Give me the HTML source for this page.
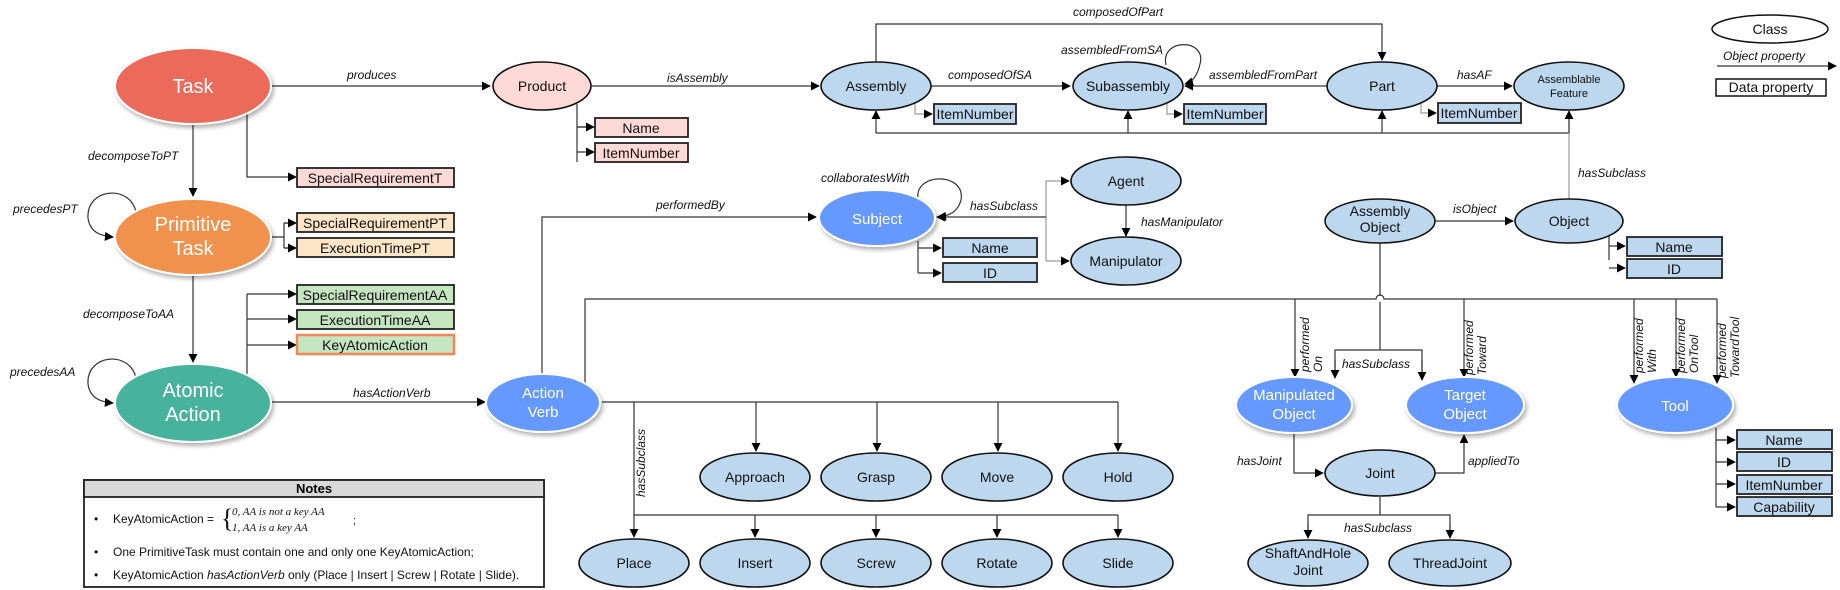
<!DOCTYPE html>
<html><head><meta charset="utf-8"><style>
html,body{margin:0;padding:0;background:#fff;}
svg{display:block;font-family:"Liberation Sans",Arial,sans-serif;}
.l{fill:none;stroke:#333;stroke-width:1.2;}
.g{fill:none;stroke:#999;stroke-width:1.2;}
.lb{font-style:italic;font-size:12px;fill:#111;}
.cn{fill:#BDD7EE;stroke:#111;stroke-width:1.6;}
.bn{fill:#6699FF;stroke:#fff;stroke-width:2;filter:url(#sh);}
.ct{font-size:14px;fill:#111;text-anchor:middle;}
.wt{font-size:15px;fill:#fff;text-anchor:middle;}
.bt{font-size:20px;fill:#fff;text-anchor:middle;}
.ab{stroke:#222;stroke-width:1.8;}
.at{font-size:14px;fill:#111;text-anchor:middle;}
</style></head><body>
<svg width="1840" height="590" viewBox="0 0 1840 590" xmlns="http://www.w3.org/2000/svg">
<defs>
<marker id="a" viewBox="0 0 10 10" refX="9" refY="5" markerWidth="9" markerHeight="9" markerUnits="userSpaceOnUse" orient="auto"><path d="M0,0 L10,5 L0,10 z" fill="#000"/></marker>
<filter id="sh" x="-20%" y="-20%" width="150%" height="160%"><feDropShadow dx="2" dy="3" stdDeviation="2" flood-color="#000" flood-opacity="0.3"/></filter>
</defs>

<!-- Left column edges -->
<path class="l" d="M271,86 H490" marker-end="url(#a)"/>
<text class="lb" x="347" y="79">produces</text>
<path class="l" d="M193,124 V196" marker-end="url(#a)"/>
<text class="lb" x="88" y="160">decomposeToPT</text>
<path class="l" d="M193,275 V362" marker-end="url(#a)"/>
<text class="lb" x="83" y="318">decomposeToAA</text>
<path class="l" d="M136,212 C130,184 86,188 88,218 C90,232 100,236 113,237" marker-end="url(#a)"/>
<text class="lb" x="13" y="213">precedesPT</text>
<path class="l" d="M136,378 C130,350 86,354 88,384 C90,398 100,402 113,403" marker-end="url(#a)"/>
<text class="lb" x="10" y="376">precedesAA</text>
<path class="l" d="M247,113 V177 H296" marker-end="url(#a)"/>
<path class="l" d="M271,237 H284 M284,223 V248 M284,223 H296 M284,248 H296"/>
<path class="l" d="M284,223 H296" marker-end="url(#a)"/><path class="l" d="M284,248 H296" marker-end="url(#a)"/>
<path class="l" d="M247,374 V294"/>
<path class="l" d="M247,294 H296" marker-end="url(#a)"/><path class="l" d="M247,319 H296" marker-end="url(#a)"/><path class="l" d="M247,345 H296" marker-end="url(#a)"/>
<path class="l" d="M270,402 H485" marker-end="url(#a)"/>
<text class="lb" x="353" y="397">hasActionVerb</text>
<path class="l" d="M577,104 V162 M577,127 H594" /><path class="l" d="M577,127 H594" marker-end="url(#a)"/><path class="l" d="M577,152 H594" marker-end="url(#a)"/>

<!-- Left nodes -->
<ellipse cx="193" cy="86" rx="78" ry="38" fill="#EC6B5A" stroke="#fff" stroke-width="2" filter="url(#sh)"/>
<text class="bt" x="193" y="93">Task</text>
<ellipse cx="193" cy="237" rx="78" ry="38" fill="#F0924E" stroke="#fff" stroke-width="2" filter="url(#sh)"/>
<text class="bt" x="193" y="231">Primitive</text><text class="bt" x="193" y="255">Task</text>
<ellipse cx="193" cy="403" rx="78" ry="39" fill="#47B39C" stroke="#fff" stroke-width="2" filter="url(#sh)"/>
<text class="bt" x="193" y="397">Atomic</text><text class="bt" x="193" y="421">Action</text>

<rect x="297" y="168" width="157" height="19" fill="#FDD9D8" class="ab"/><text class="at" x="375" y="183">SpecialRequirementT</text>
<rect x="297" y="213" width="157" height="19" fill="#FDE5C8" class="ab"/><text class="at" x="375" y="228">SpecialRequirementPT</text>
<rect x="297" y="238" width="157" height="19" fill="#FDE5C8" class="ab"/><text class="at" x="375" y="253">ExecutionTimePT</text>
<rect x="297" y="285" width="157" height="19" fill="#C5E4C0" class="ab"/><text class="at" x="375" y="300">SpecialRequirementAA</text>
<rect x="297" y="310" width="157" height="19" fill="#C5E4C0" class="ab"/><text class="at" x="375" y="325">ExecutionTimeAA</text>
<rect x="297" y="335" width="157" height="19" fill="#C5E4C0" stroke="#F4865A" stroke-width="2.5"/><text class="at" x="375" y="350">KeyAtomicAction</text>

<ellipse cx="542" cy="86" rx="49" ry="24" fill="#FDD9D8" stroke="#111" stroke-width="1.6"/>
<text class="ct" x="542" y="91">Product</text>
<rect x="595" y="118" width="93" height="19" fill="#FDD9D8" class="ab"/><text class="at" x="641" y="133">Name</text>
<rect x="595" y="143" width="93" height="19" fill="#FDD9D8" class="ab"/><text class="at" x="641" y="158">ItemNumber</text>

<!-- Top row edges -->
<path class="l" d="M591,86 H819" marker-end="url(#a)"/>
<text class="lb" x="667" y="82">isAssembly</text>
<path class="l" d="M931,86 H1070" marker-end="url(#a)"/>
<text class="lb" x="948" y="79">composedOfSA</text>
<path class="l" d="M876,62 V24 H1382 V60" marker-end="url(#a)"/>
<text class="lb" x="1073" y="16">composedOfPart</text>
<path class="l" d="M1327,86 H1185" marker-end="url(#a)"/>
<text class="lb" x="1209" y="79">assembledFromPart</text>
<path class="l" d="M1166,65 C1160,38 1207,38 1200,64 C1197,77 1192,82 1185,84" marker-end="url(#a)"/>
<text class="lb" x="1061" y="54">assembledFromSA</text>
<path class="l" d="M1437,86 H1512" marker-end="url(#a)"/>
<text class="lb" x="1457" y="79">hasAF</text>
<path class="l" d="M876,133 H1569"/>
<path class="l" d="M876,133 V111" marker-end="url(#a)"/>
<path class="l" d="M1128,133 V111" marker-end="url(#a)"/>
<path class="l" d="M1382,133 V111" marker-end="url(#a)"/>
<path class="g" d="M1569,199 V112"/>
<path class="l" d="M1569,133 V111" marker-end="url(#a)"/>
<text class="lb" x="1578" y="177">hasSubclass</text>
<path class="g" d="M915,104 V114 H932" marker-end="url(#a)"/>
<path class="g" d="M1167,104 V114 H1182" marker-end="url(#a)"/>
<path class="g" d="M1421,104 V113 H1436" marker-end="url(#a)"/>

<ellipse class="cn" cx="876" cy="86" rx="55" ry="24"/><text class="ct" x="876" y="91">Assembly</text>
<ellipse class="cn" cx="1128" cy="86" rx="55" ry="24"/><text class="ct" x="1128" y="91">Subassembly</text>
<ellipse class="cn" cx="1382" cy="86" rx="55" ry="24"/><text class="ct" x="1382" y="91">Part</text>
<ellipse class="cn" cx="1569" cy="86" rx="55" ry="24"/><text class="ct" x="1569" y="83" style="font-size:11px">Assemblable</text><text class="ct" x="1569" y="97" style="font-size:11px">Feature</text>
<rect x="934" y="104" width="82" height="20" class="ab" fill="#BDD7EE"/><text class="at" x="975" y="119">ItemNumber</text>
<rect x="1184" y="104" width="82" height="20" class="ab" fill="#BDD7EE"/><text class="at" x="1225" y="119">ItemNumber</text>
<rect x="1438" y="103" width="83" height="20" class="ab" fill="#BDD7EE"/><text class="at" x="1479" y="118">ItemNumber</text>

<!-- Legend -->
<ellipse cx="1770" cy="29" rx="58" ry="14" fill="#fff" stroke="#111" stroke-width="1.5"/>
<text class="ct" x="1770" y="34">Class</text>
<text class="lb" x="1723" y="60">Object property</text>
<path class="l" d="M1717,66 H1836" marker-end="url(#a)"/>
<rect x="1716" y="79" width="110" height="17" fill="#fff" stroke="#111" stroke-width="1.5"/>
<text class="ct" x="1771" y="92">Data property</text>

<!-- Subject area -->
<path class="l" d="M542,374 V217 H816" marker-end="url(#a)"/>
<text class="lb" x="656" y="209">performedBy</text>
<path class="l" d="M918,199 C914,172 966,172 961,200 C958,212 949,216 938,217" marker-end="url(#a)"/>
<text class="lb" x="821" y="182">collaboratesWith</text>
<path class="g" d="M1046,181 V261"/>
<path class="l" d="M1046,217 H937" marker-end="url(#a)"/>
<path class="g" d="M1046,181 H1069" marker-end="url(#a)"/>
<path class="g" d="M1046,261 H1069" marker-end="url(#a)"/>
<text class="lb" x="970" y="210">hasSubclass</text>
<path class="l" d="M1126,205 V236" marker-end="url(#a)"/>
<text class="lb" x="1141" y="226">hasManipulator</text>
<path class="l" d="M918,241 V273"/>
<path class="l" d="M918,248 H941" marker-end="url(#a)"/><path class="l" d="M918,273 H941" marker-end="url(#a)"/>
<ellipse class="bn" cx="877" cy="218" rx="58" ry="28"/><text class="wt" x="877" y="224">Subject</text>
<ellipse class="cn" cx="1126" cy="181" rx="55" ry="24"/><text class="ct" x="1126" y="186">Agent</text>
<ellipse class="cn" cx="1126" cy="261" rx="55" ry="24"/><text class="ct" x="1126" y="266">Manipulator</text>
<rect x="943" y="238" width="94" height="19" class="ab" fill="#BDD7EE"/><text class="at" x="990" y="253">Name</text>
<rect x="943" y="263" width="94" height="19" class="ab" fill="#BDD7EE"/><text class="at" x="990" y="278">ID</text>

<!-- Action verb subclasses -->
<path class="l" d="M585,384 V299 H1376 A4,4 0 0 1 1384,299 H1717"/>
<path class="l" d="M602,402 H1118"/>
<path class="l" d="M756,402 V451" marker-end="url(#a)"/><path class="l" d="M877,402 V451" marker-end="url(#a)"/>
<path class="l" d="M998,402 V451" marker-end="url(#a)"/><path class="l" d="M1118,402 V451" marker-end="url(#a)"/>
<path class="l" d="M634,402 V515 H1118"/>
<path class="l" d="M634,515 V537" marker-end="url(#a)"/><path class="l" d="M755,515 V537" marker-end="url(#a)"/>
<path class="l" d="M876,515 V537" marker-end="url(#a)"/><path class="l" d="M997,515 V537" marker-end="url(#a)"/><path class="l" d="M1118,515 V537" marker-end="url(#a)"/>
<text class="lb" transform="translate(645,497) rotate(-90)">hasSubclass</text>
<ellipse class="bn" cx="543" cy="403" rx="57" ry="29"/><text class="wt" x="543" y="398">Action</text><text class="wt" x="543" y="417">Verb</text>
<g>
<ellipse class="cn" cx="755" cy="477" rx="55" ry="24"/><text class="ct" x="755" y="482">Approach</text>
<ellipse class="cn" cx="876" cy="477" rx="55" ry="24"/><text class="ct" x="876" y="482">Grasp</text>
<ellipse class="cn" cx="997" cy="477" rx="55" ry="24"/><text class="ct" x="997" y="482">Move</text>
<ellipse class="cn" cx="1118" cy="477" rx="55" ry="24"/><text class="ct" x="1118" y="482">Hold</text>
<ellipse class="cn" cx="634" cy="563" rx="55" ry="24"/><text class="ct" x="634" y="568">Place</text>
<ellipse class="cn" cx="755" cy="563" rx="55" ry="24"/><text class="ct" x="755" y="568">Insert</text>
<ellipse class="cn" cx="876" cy="563" rx="55" ry="24"/><text class="ct" x="876" y="568">Screw</text>
<ellipse class="cn" cx="997" cy="563" rx="55" ry="24"/><text class="ct" x="997" y="568">Rotate</text>
<ellipse class="cn" cx="1118" cy="563" rx="55" ry="24"/><text class="ct" x="1118" y="568">Slide</text>
</g>

<!-- Object area -->
<path class="l" d="M1435,221 H1513" marker-end="url(#a)"/>
<text class="lb" x="1453" y="213">isObject</text>
<path class="l" d="M1609,236 V260"/>
<path class="l" d="M1609,246 H1625" marker-end="url(#a)"/><path class="l" d="M1609,268 H1625" marker-end="url(#a)"/>
<path class="l" d="M1380,243 V296 M1380,302 V350 H1335 V378 M1380,350 H1422 V378"/>
<path class="l" d="M1335,360 V378" marker-end="url(#a)"/><path class="l" d="M1422,360 V380" marker-end="url(#a)"/>
<text class="lb" x="1342" y="368">hasSubclass</text>
<path class="l" d="M1295,299 V377" marker-end="url(#a)"/>
<path class="l" d="M1464,299 V377" marker-end="url(#a)"/>
<path class="l" d="M1634,299 V383" marker-end="url(#a)"/>
<path class="l" d="M1676,299 V377" marker-end="url(#a)"/>
<path class="l" d="M1717,299 V383" marker-end="url(#a)"/>
<text class="lb" transform="translate(1309,372) rotate(-90)">performed</text>
<text class="lb" transform="translate(1322,372) rotate(-90)">On</text>
<text class="lb" transform="translate(1473,375) rotate(-90)">performed</text>
<text class="lb" transform="translate(1486,375) rotate(-90)">Toward</text>
<text class="lb" transform="translate(1643,373) rotate(-90)">performed</text>
<text class="lb" transform="translate(1656,373) rotate(-90)">With</text>
<text class="lb" transform="translate(1685,373) rotate(-90)">performed</text>
<text class="lb" transform="translate(1698,373) rotate(-90)">OnTool</text>
<text class="lb" transform="translate(1726,378) rotate(-90)">performed</text>
<text class="lb" transform="translate(1739,378) rotate(-90)">TowardTool</text>
<path class="l" d="M1294,433 V473 H1323" marker-end="url(#a)"/>
<text class="lb" x="1237" y="465">hasJoint</text>
<path class="l" d="M1435,473 H1464 V435" marker-end="url(#a)"/>
<text class="lb" x="1468" y="465">appliedTo</text>
<path class="l" d="M1380,497 V515 M1308,538 V515 H1450 V538"/>
<path class="l" d="M1308,525 V538" marker-end="url(#a)"/><path class="l" d="M1450,525 V538" marker-end="url(#a)"/>
<text class="lb" x="1344" y="532">hasSubclass</text>
<path class="l" d="M1716,428 V507"/>
<path class="l" d="M1716,440 H1735" marker-end="url(#a)"/><path class="l" d="M1716,462 H1735" marker-end="url(#a)"/>
<path class="l" d="M1716,484 H1735" marker-end="url(#a)"/><path class="l" d="M1716,507 H1735" marker-end="url(#a)"/>

<ellipse class="cn" cx="1380" cy="221" rx="55" ry="22"/><text class="ct" x="1380" y="216">Assembly</text><text class="ct" x="1380" y="232">Object</text>
<ellipse class="cn" cx="1569" cy="221" rx="54" ry="22"/><text class="ct" x="1569" y="226">Object</text>
<rect x="1627" y="237" width="95" height="19" class="ab" fill="#BDD7EE"/><text class="at" x="1674" y="252">Name</text>
<rect x="1627" y="259" width="95" height="19" class="ab" fill="#BDD7EE"/><text class="at" x="1674" y="274">ID</text>
<ellipse class="bn" cx="1294" cy="405" rx="58" ry="28"/><text class="wt" x="1294" y="400">Manipulated</text><text class="wt" x="1294" y="419">Object</text>
<ellipse class="bn" cx="1465" cy="405" rx="59" ry="28"/><text class="wt" x="1465" y="400">Target</text><text class="wt" x="1465" y="419">Object</text>
<ellipse class="bn" cx="1675" cy="405" rx="58" ry="28"/><text class="wt" x="1675" y="411">Tool</text>
<ellipse class="cn" cx="1380" cy="473" rx="55" ry="23"/><text class="ct" x="1380" y="478">Joint</text>
<ellipse class="cn" cx="1308" cy="563" rx="60" ry="23"/><text class="ct" x="1308" y="558">ShaftAndHole</text><text class="ct" x="1308" y="575">Joint</text>
<ellipse class="cn" cx="1450" cy="563" rx="61" ry="23"/><text class="ct" x="1450" y="568">ThreadJoint</text>
<rect x="1737" y="430" width="95" height="19" class="ab" fill="#BDD7EE"/><text class="at" x="1784" y="445">Name</text>
<rect x="1737" y="452" width="95" height="19" class="ab" fill="#BDD7EE"/><text class="at" x="1784" y="467">ID</text>
<rect x="1737" y="475" width="95" height="19" class="ab" fill="#BDD7EE"/><text class="at" x="1784" y="490">ItemNumber</text>
<rect x="1737" y="497" width="95" height="19" class="ab" fill="#BDD7EE"/><text class="at" x="1784" y="512">Capability</text>

<!-- Notes -->
<rect x="84" y="480" width="460" height="107" fill="#fff" stroke="#222" stroke-width="1.8"/>
<rect x="84" y="480" width="460" height="17" fill="#D9D9D9" stroke="#222" stroke-width="1.8"/>
<text x="314" y="493" text-anchor="middle" style="font-size:13px;font-weight:bold">Notes</text>
<g style="font-size:12px" fill="#111">
<text x="94" y="523">•</text><text x="113" y="523">KeyAtomicAction =</text>
<text x="221" y="527" style="font-size:26px;font-family:'Liberation Serif',serif" transform="scale(1,1)">{</text>
<text x="232" y="515" style="font-family:'Liberation Serif',serif;font-style:italic;font-size:11px">0,   AA is not a key AA</text>
<text x="232" y="531" style="font-family:'Liberation Serif',serif;font-style:italic;font-size:11px">1,        AA is a key AA</text>
<text x="353" y="524" style="font-size:11px">;</text>
<text x="94" y="556">•</text><text x="113" y="556">One PrimitiveTask must contain one and only one KeyAtomicAction;</text>
<text x="94" y="579">•</text><text x="113" y="579">KeyAtomicAction <tspan font-style="italic">hasActionVerb</tspan> only (Place | Insert | Screw | Rotate | Slide).</text>
</g>
</svg>
</body></html>
